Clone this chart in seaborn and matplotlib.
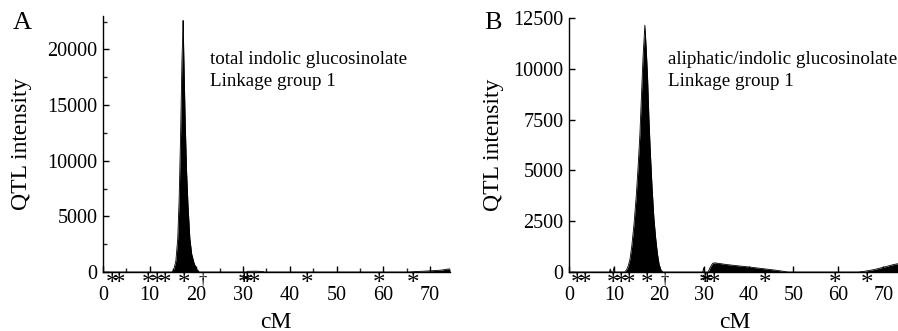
import matplotlib
matplotlib.use("Agg")
import matplotlib.pyplot as plt
import seaborn as sns
import numpy as np
from matplotlib.ticker import MultipleLocator

# --- QTL intensity profiles (cM, intensity) ---
cm_a = [0, 14.8, 15.2, 15.6, 16.0, 16.3, 16.6, 16.9, 17.05, 17.15, 17.3, 17.6, 17.9,
        18.2, 18.6, 19.0, 19.5, 20.0, 20.6, 30.6, 31.0, 32.0, 33.0, 34.3, 34.5,
        65.5, 67.0, 69.0, 71.0, 72.5, 73.5, 74.3]
qtl_a = [0, 0, 300, 1000, 3000, 6500, 12000, 19000, 21000, 22600, 19500, 13500, 9000,
         6000, 3000, 1600, 800, 300, 0, 0, 60, 70, 70, 40, 0,
         0, 40, 80, 130, 170, 250, 280]

cm_b = [0, 9.0, 9.2, 9.4, 9.8, 10.0, 10.2, 12.4, 12.8, 13.2, 13.6, 14.0, 14.5, 15.0,
        15.4, 15.8, 16.2, 16.5, 16.9, 17.2, 17.5, 17.8, 18.1, 18.5, 18.9, 19.3, 19.7,
        20.1, 20.5, 20.9, 29.8, 30.0, 30.2, 31.0, 31.5, 32.0, 32.5, 33.5, 35.0, 37.0,
        40.0, 43.0, 46.0, 48.8, 64.5, 66.0, 68.0, 70.0, 72.0, 73.3]
qtl_b = [0, 0, 150, 0, 0, 200, 0, 0, 100, 300, 650, 1300, 2400, 3800,
         5200, 6800, 9000, 10600, 12150, 11000, 9600, 7600, 6000, 4200, 2700, 1700, 900,
         350, 100, 0, 0, 200, 0, 0, 250, 430, 450, 420, 370, 320,
         250, 170, 90, 0, 0, 40, 120, 230, 350, 410]

# marker positions along the linkage group
marker_cm = [1.9, 3.5, 9.7, 11.5, 13.3, 17.4, 30.2, 30.8, 32.4, 43.7, 59.2, 66.3]
marker_sym = ['*'] * len(marker_cm)
dagger_cm = 21.3

sns.set_theme(style="ticks")
plt.rcParams['font.family'] = ['Liberation Serif', 'DejaVu Serif']

fig = plt.figure(figsize=(8.98, 3.31), dpi=100)
W, H = 898, 331

panels = [
    dict(cm=cm_a, q=qtl_a, left=103, right=450, top=16, ymax=23000, xmax=74.3,
         ymajor=5000, yminor=2500, xminor=5, letter='A', lx=22, ly=23,
         text='total indolic glucosinolate', tx=210, ylab_x=22, xlab_x=276),
    dict(cm=cm_b, q=qtl_b, left=569, right=898, top=18, ymax=12500, xmax=73.3,
         ymajor=2500, yminor=None, xminor=None, letter='B', lx=493, ly=23,
         text='aliphatic/indolic glucosinolate', tx=668, ylab_x=494, xlab_x=735),
]

for p in panels:
    bottom = 272
    ax = fig.add_axes([p['left'] / W, (H - bottom) / H,
                       (p['right'] - p['left']) / W, (bottom - p['top']) / H])
    sns.lineplot(x=p['cm'], y=p['q'], color='black', lw=0.6, ax=ax, sort=False)
    ax.fill_between(p['cm'], p['q'], 0, color='black', lw=0)
    ax.set_xlim(0, p['xmax'])
    ax.set_ylim(0, p['ymax'])
    sns.despine(ax=ax)
    for s in ['left', 'bottom']:
        ax.spines[s].set_linewidth(1.0)
        ax.spines[s].set_color('black')
    ax.xaxis.set_major_locator(MultipleLocator(10))
    ax.yaxis.set_major_locator(MultipleLocator(p['ymajor']))
    if p['xminor']:
        ax.xaxis.set_minor_locator(MultipleLocator(p['xminor']))
    if p['yminor']:
        ax.yaxis.set_minor_locator(MultipleLocator(p['yminor']))
    ax.tick_params(axis='both', which='major', direction='in', length=4, width=1,
                   labelsize=14.5, colors='black')
    ax.tick_params(axis='both', which='minor', direction='in', length=3, width=1)
    ax.tick_params(axis='x', which='major', pad=10)
    ax.tick_params(axis='y', which='major', pad=4)

    ax.set_ylabel('QTL intensity', fontsize=17, color='black', va='center')
    ax.yaxis.set_label_coords((p['ylab_x'] - p['left']) / (p['right'] - p['left']), 0.5)
    ax.set_xlabel('cM', fontsize=17, color='black', va='center')
    ax.xaxis.set_label_coords((p['xlab_x'] - p['left']) / (p['right'] - p['left']),
                              -50 / (bottom - p['top']))

    # marker row under the axis
    for x, sym in zip(marker_cm, marker_sym):
        ax.annotate(sym, xy=(x, 0), xycoords=('data', 'axes fraction'),
                    xytext=(0, -12), textcoords='offset pixels',
                    ha='center', va='center', fontsize=18, color='black')
    ax.annotate('\u2020', xy=(dagger_cm, 0), xycoords=('data', 'axes fraction'),
                xytext=(0, -8), textcoords='offset pixels',
                ha='center', va='center', fontsize=12, color='black')

    tx = (p['tx'] - p['left']) / (p['right'] - p['left'])
    ax.text(tx, (bottom - 60) / (bottom - p['top']), p['text'], transform=ax.transAxes,
            fontsize=13.7, ha='left', va='center', color='black')
    ax.text(tx, (bottom - 81) / (bottom - p['top']), 'Linkage group 1', transform=ax.transAxes,
            fontsize=13.7, ha='left', va='center', color='black')

    fig.text(p['lx'] / W, 1 - p['ly'] / H, p['letter'], fontsize=19,
             ha='center', va='center', color='black')

fig.savefig('out.png', dpi=100)
